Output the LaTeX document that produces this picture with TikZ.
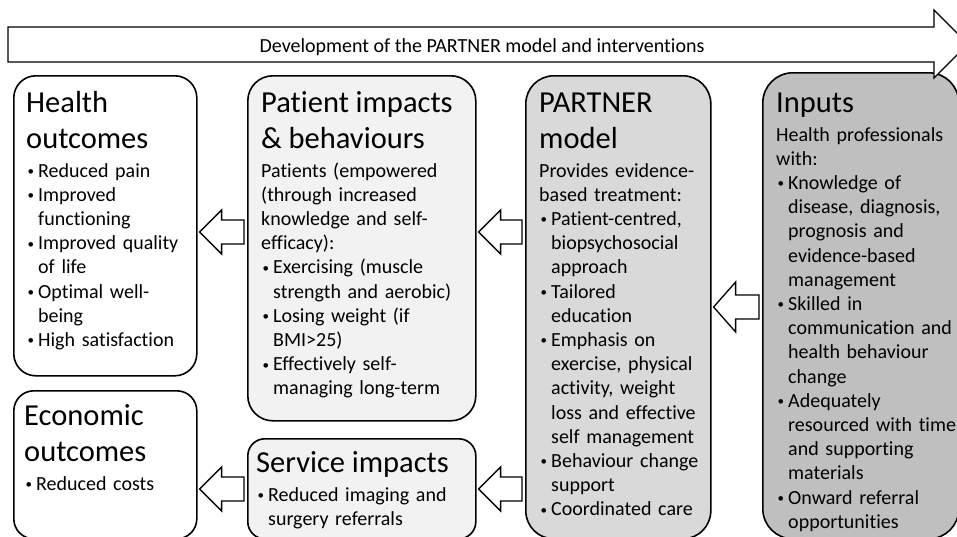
\documentclass[tikz,border=0pt]{standalone}
\usepackage{fontspec}
\setmainfont{Carlito}[Ligatures={NoCommon}]
\usetikzlibrary{calc}

\definecolor{lightbox}{HTML}{F2F2F2}
\definecolor{midbox}{HTML}{D9D9D9}
\definecolor{darkbox}{HTML}{BFBFBF}

\tikzset{
  box/.style={draw=black, line width=1.6pt, rounded corners=#1, anchor=north west,
    inner sep=0pt},
  boxtext/.style={anchor=base west, inner sep=0pt, align=left,
    font=\fontsize{20}{24.2}\selectfont},
  flowarrow/.style={draw=black, fill=white, line width=1.3pt, line join=miter}
}

\newcommand*{\Head}[1]{{\fontsize{30.5}{36}\selectfont #1\par}\vspace{4.8pt}}
\newcommand*{\Item}[1]{\par\hangindent=12pt\hangafter=1%
  \makebox[12pt][l]{\hspace{1.5pt}\raisebox{1.5pt}{\fontsize{13}{13}\selectfont\textbullet}}#1\par}
\newcommand*{\FlowArrow}[4]{% #1 = from box, #2 = to box, #3 = y, #4 = half head
  \path (#2.east |- 0,#3) ++(2,0) coordinate (tip);
  \path (#1.west |- 0,#3) ++(-3,0) coordinate (tail);
  \draw [flowarrow] (tip) -- ++(22,-#4) -- ++(0,#4-12) -- (tail |- 0,#3-12)
    -- (tail |- 0,#3+12) -- ($(tip)+(22,12)$) -- ($(tip)+(22,#4)$) -- cycle;
}

\begin{document}
\begin{tikzpicture}[x=1pt,y=-1pt]
    \useasboundingbox (0,0) rectangle (957,536);

    % boxes
    \node [box=22pt, fill=white, minimum width=183pt, minimum height=300pt] (health) at (13,75) {};
    \node [box=20pt, fill=white, minimum width=183pt, minimum height=148pt] (econ) at (13,390) {};
    \node [box=25pt, fill=lightbox, minimum width=228pt, minimum height=345pt] (patient) at (247,75) {};
    \node [box=17pt, fill=lightbox, minimum width=228pt, minimum height=100pt] (service) at (247,438) {};
    \node [box=28pt, fill=midbox, minimum width=185pt, minimum height=463pt] (partner) at (525,75) {};
    \node [box=30pt, fill=darkbox, minimum width=196pt, minimum height=466pt] (inputs) at (762,72) {};

    % texts
    \node [boxtext, text width=170pt] (healthtxt) at ($(health.north west)+(13,37)$) {%
      \Head{Health\newline outcomes}%
      \Item{Reduced pain}
      \Item{Improved\newline functioning}
      \Item{Improved quality\newline of life}
      \Item{Optimal well-\newline being}
      \Item{High satisfaction}};
    \node [boxtext, text width=170pt] (econtxt) at ($(econ.north west)+(11,35)$) {%
      \Head{Economic\newline outcomes}%
      \Item{Reduced costs}};
    \node [boxtext, text width=215pt] (patienttxt) at ($(patient.north west)+(14,37)$) {%
      \Head{Patient impacts\newline \& behaviours}%
      Patients (empowered\newline (through increased\newline knowledge and self-\newline efficacy):
      \Item{Exercising (muscle\newline strength and aerobic)}
      \Item{Losing weight (if\newline BMI>25)}
      \Item{Effectively self-\newline managing long-term}};
    \node [boxtext, text width=218pt] (servicetxt) at ($(service.north west)+(9,34)$) {%
      \Head{Service impacts}%
      \Item{Reduced imaging and\newline surgery referrals}};
    \node [boxtext, text width=172pt] (partnertxt) at ($(partner.north west)+(14,37)$) {%
      \Head{PARTNER\newline model}%
      Provides evidence-\newline based treatment:
      \Item{Patient-centred,\newline biopsychosocial\newline approach}
      \Item{Tailored\newline education}
      \Item{Emphasis on\newline exercise, physical\newline activity, weight\newline loss and effective\newline self management}
      \Item{Behaviour change\newline support}
      \Item{Coordinated care}};
    \node [boxtext, text width=180pt] (inputstxt) at ($(inputs.north west)+(14,40)$) {%
      \Head{Inputs}%
      Health professionals\newline with:
      \Item{Knowledge of\newline disease, diagnosis,\newline prognosis and\newline evidence-based\newline management}
      \Item{Skilled in\newline communication and\newline health behaviour\newline change}
      \Item{Adequately\newline resourced with time\newline and supporting\newline materials}
      \Item{Onward referral\newline opportunities}};

    % arrows between boxes
    \foreach \src/\dst/\y/\h in {patient/health/232/22, service/econ/489/22,
        partner/patient/232/22, partner/service/489/22, inputs/partner/307/25}
      {\FlowArrow{\src}{\dst}{\y}{\h}}

    % development arrow
    \draw [flowarrow] (8,27) -- (934,27) -- (934,10) -- (968,44) -- (934,78)
      -- (934,62) -- (8,62) -- cycle;
    \node [anchor=base, inner sep=0pt, font=\fontsize{20}{24}\selectfont] (devtxt)
      at (482,52) {Development of the PARTNER model and interventions};
\end{tikzpicture}
\end{document}
